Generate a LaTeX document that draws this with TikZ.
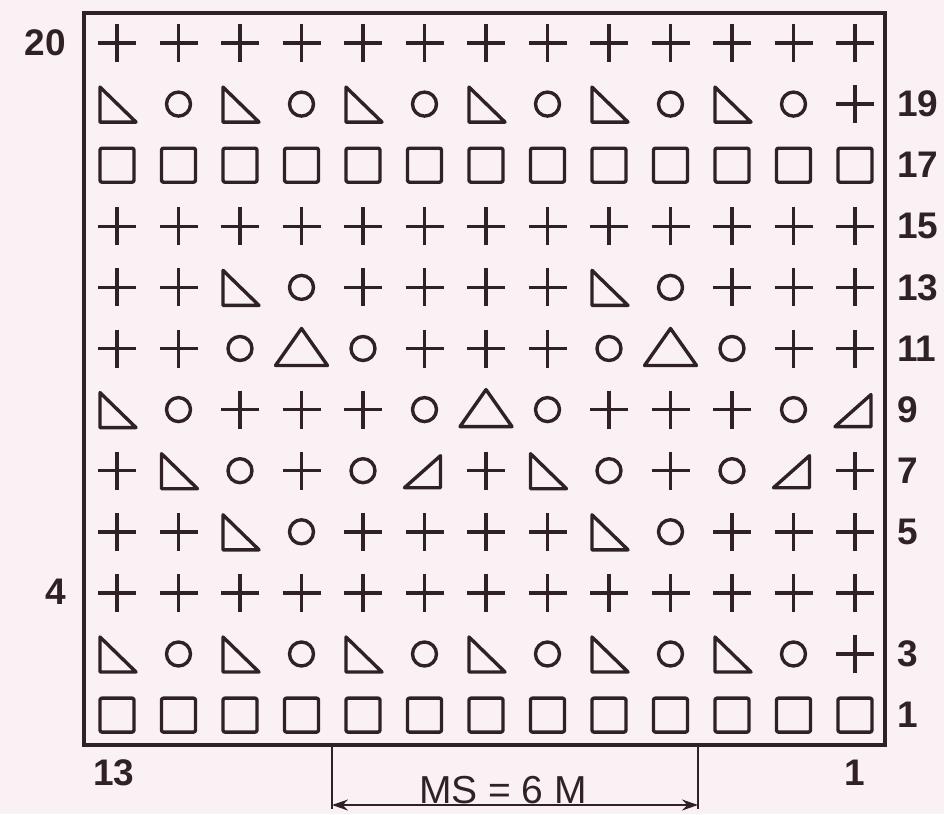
\documentclass[tikz,border=0pt]{standalone}
\usepackage{fontspec}
\setmainfont{Liberation Sans}
\usetikzlibrary{arrows.meta}
\definecolor{ink}{RGB}{48,34,36}
\definecolor{paper}{RGB}{250,241,244}
\newcommand\kpP{\draw[sym] (-19,0) -- (19,0) (0,-19) -- (0,19);}
\newcommand\kpO{\draw[sym] (0,0) circle (12);}
\newcommand\kpL{\draw[sym] (-17,-17) -- (-17,18) -- (19,18) -- cycle;}
\newcommand\kpR{\draw[sym] (16,-15) -- (16,17) -- (-20,17) -- cycle;}
\newcommand\kpT{\draw[sym] (0,-20) -- (26,17) -- (-26,17) -- cycle;}
\newcommand\kpQ{\draw[sym,rounded corners=2] (-17,-17) rectangle (17,17);}
\begin{document}
\begin{tikzpicture}[x=1pt,y=-1pt,
  sym/.style={draw=ink,line width=3.4pt,line join=round},
  rowlabel/.style={text=ink,inner sep=0pt,font=\fontsize{37}{40}\selectfont\bfseries},
  dimline/.style={draw=ink,line width=2pt}]
\fill[paper] (0,0) rectangle (944,814);
\useasboundingbox (0,0) rectangle (944,814);
\draw[ink,line width=3.6pt] (84,13) rectangle (885,745);
\foreach \row [count=\r from 0] in {
  {P,P,P,P,P,P,P,P,P,P,P,P,P},
  {L,O,L,O,L,O,L,O,L,O,L,O,P},
  {Q,Q,Q,Q,Q,Q,Q,Q,Q,Q,Q,Q,Q},
  {P,P,P,P,P,P,P,P,P,P,P,P,P},
  {P,P,L,O,P,P,P,P,L,O,P,P,P},
  {P,P,O,T,O,P,P,P,O,T,O,P,P},
  {L,O,P,P,P,O,T,O,P,P,P,O,R},
  {P,L,O,P,O,R,P,L,O,P,O,R,P},
  {P,P,L,O,P,P,P,P,L,O,P,P,P},
  {P,P,P,P,P,P,P,P,P,P,P,P,P},
  {L,O,L,O,L,O,L,O,L,O,L,O,P},
  {Q,Q,Q,Q,Q,Q,Q,Q,Q,Q,Q,Q,Q}} {
  \foreach \s [count=\c from 0] in \row {
    \begin{scope}[shift={(117+61.5*\c,43+61.1*\r)}]
      \csname kp\s\endcsname
    \end{scope}
  }
}
% row numbers right
\foreach \lab/\r in {19/1,17/2,15/3,13/4,11/5,9/6,7/7,5/8,3/10,1/11}
  \node[rowlabel,anchor=west] (r\lab) at (897,43+61.1*\r) {\lab};
% left
\node[rowlabel,anchor=east] (l20) at (66,43) {20};
\node[rowlabel,anchor=east] (l4) at (66,592) {4};
% bottom stitch numbers
\node[rowlabel] (b13) at (114,773) {13};
\node[rowlabel] (b1) at (855,773) {1};
% repeat dimension
\coordinate (d1) at (332,745);
\coordinate (d2) at (698,745);
\coordinate (e1) at (332,809);
\coordinate (e2) at (698,809);
\coordinate (a1) at (332,805);
\coordinate (a2) at (698,805);
\draw[dimline] (d1) -- (e1);
\draw[dimline] (d2) -- (e2);
\draw[dimline,{Stealth[length=16pt,width=11pt]}-{Stealth[length=16pt,width=11pt]}] (a1) -- (a2);
\node[text=ink,inner sep=0pt,anchor=base,font=\fontsize{39}{40}\selectfont] (ms) at (503,803) {MS = 6 M};
\end{tikzpicture}
\end{document}
